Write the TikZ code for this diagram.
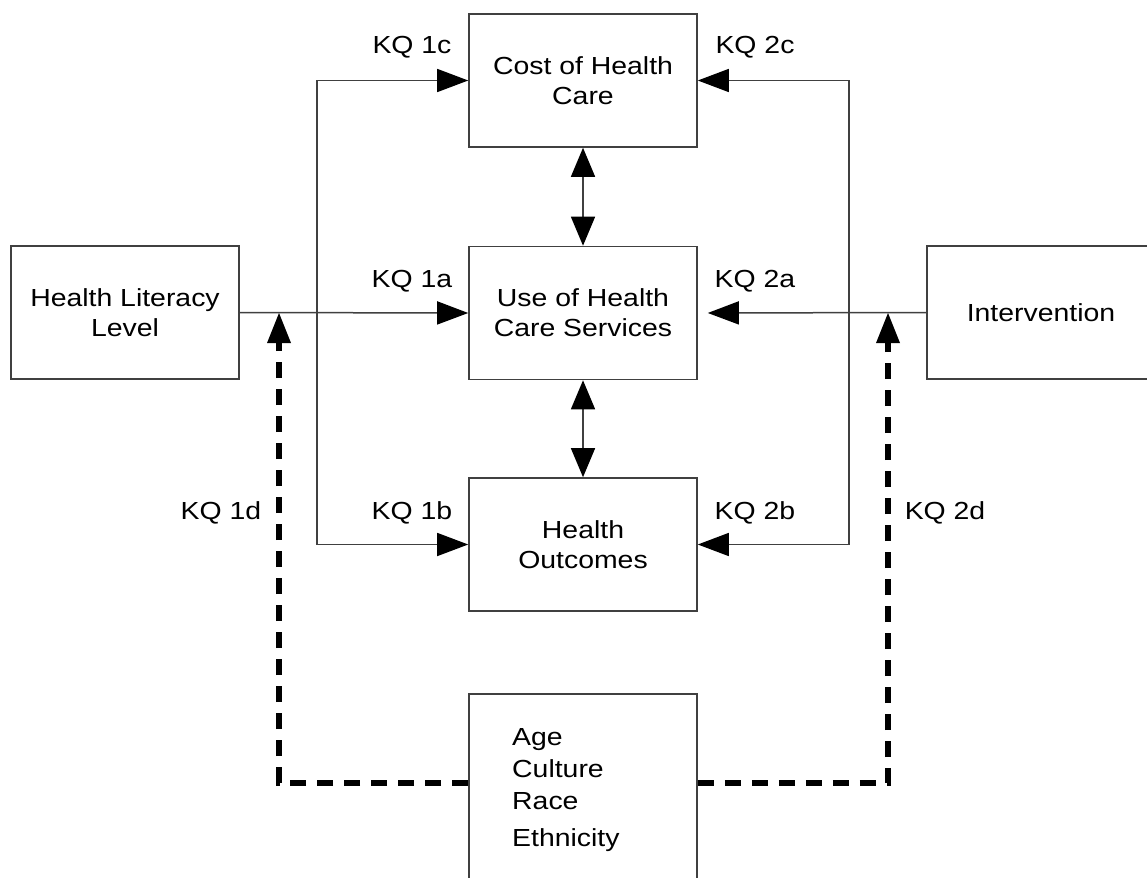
\documentclass[tikz,border=0pt]{standalone}
\usepackage{fontspec}
\setmainfont{Liberation Sans}[FakeStretch=1.15]
\usetikzlibrary{arrows.meta}
\begin{document}
\begin{tikzpicture}[x=1pt,y=-1pt,
  box/.style={draw=black!75, line width=1.6pt, minimum width=228pt, minimum height=133pt, inner sep=0pt, align=center, font=\fontsize{24.7}{30}\selectfont},
  lbl/.style={font=\fontsize{24.7}{30}\selectfont, inner sep=0pt, anchor=base},
  conn/.style={draw=black!75, line width=1.5pt},
  arr/.style={conn, -{Triangle[length=31pt,width=23pt,color=black]}},
  dbl/.style={conn, {Triangle[length=29pt,width=24pt,color=black]}-{Triangle[length=29pt,width=24pt,color=black]}},
  dsh/.style={draw=black, line width=6pt, dash pattern=on 16pt off 11pt, -{Triangle[length=30pt,width=24pt,line width=0pt]}},
]
\useasboundingbox (0,0) rectangle (1147,877);
\clip (0,0) rectangle (1147,877);
\fill[white] (0,0) rectangle (1147,877);

% boxes
\node[box] (cost) at (583,80.5) {Cost of Health\\Care};
\node[box] (use) at (583,313) {Use of Health\\Care Services};
\node[box] (out) at (583,544.5) {Health\\Outcomes};
\node[box] (hl) at (125,312.5) {Health Literacy\\Level};
\node[box] (int) at (1041,312.5) {Intervention};
\node[box, minimum height=206pt] (age) at (583,797) {};
\node[font=\fontsize{24.7}{32}\selectfont, align=left, inner sep=0pt, anchor=north west] (agetext) at (512,728) {Age\\Culture\\Race\\[5pt]Ethnicity};

% junction points of the dashed arrows
\coordinate (j1) at (279,313);
\coordinate (j2) at (888,313);

% left connectors
\draw[arr] (hl.east) -- (use.west);
\draw[arr] (hl.east) ++(77,0) |- (cost.west);
\draw[arr] (hl.east) ++(77,0) |- (out.west);
% right connectors
\draw[arr, shorten >=10pt] (int.west) -- (use.east);
\draw[arr] (int.west) ++(-77,0) |- (cost.east);
\draw[arr] (int.west) ++(-77,0) |- (out.east);
% double arrows
\draw[dbl] (cost.south) -- (use.north);
\draw[dbl] (use.south) -- (out.north);
% dashed arrows
\draw[dsh] ([yshift=14pt]age.west) -| (j1);
\draw[dsh] ([yshift=14pt]age.east) -| (j2);

% labels
\node[lbl] (l1c) at (412,54) {KQ 1c};
\node[lbl] (l1a) at (412,287) {KQ 1a};
\node[lbl] (l1b) at (412,519) {KQ 1b};
\node[lbl] (l2c) at (755,54) {KQ 2c};
\node[lbl] (l2a) at (755,287) {KQ 2a};
\node[lbl] (l2b) at (755,519) {KQ 2b};
\node[lbl] (l1d) at (221,519) {KQ 1d};
\node[lbl] (l2d) at (945,519) {KQ 2d};
\end{tikzpicture}
\end{document}
